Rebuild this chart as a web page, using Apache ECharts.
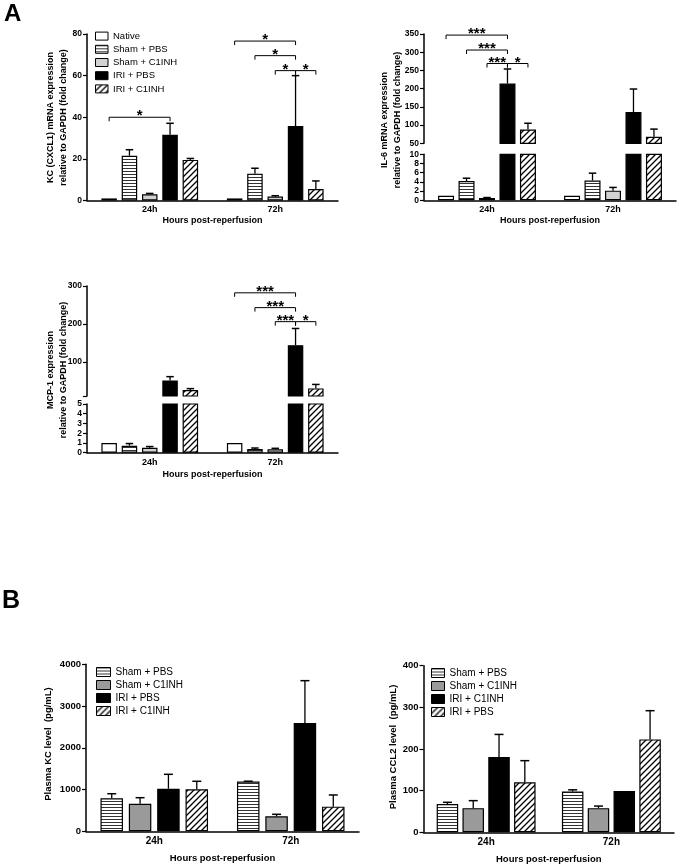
<!DOCTYPE html>
<html><head><meta charset="utf-8">
<script src="https://cdn.jsdelivr.net/npm/echarts@6/dist/echarts.min.js"></script>
<style>html,body{margin:0;padding:0;background:#fff}#c{width:677px;height:866px}</style>
</head><body><div id="c"></div>
<script>
const FONT = '"Liberation Sans", Arial, sans-serif';
const categories = ['24h', '72h'];
const xTitle = 'Hours post-reperfusion';

// ---------- Panel A groups ----------
const groupsA = ['Native', 'Sham + PBS', 'Sham + C1INH', 'IRI + PBS', 'IRI + C1INH'];

// KC (CXCL1) mRNA: means and SEM
const kcNative = [1.0, 1.0];
const kcShamPBS = [21.5, 12.9];
const kcShamC1 = [3.0, 1.9];
const kcIriPBS = [31.6, 35.8];
const kcIriC1 = [19.5, 5.5];
const kcShamPBSSem = [2.9, 2.6];
const kcShamC1Sem = [0.4, 0.4];
const kcIriPBSSem = [5.5, 24.2];
const kcIriC1Sem = [0.7, 3.9];
// brackets: [category, fromBar, toBar, level, label]
const kcBrackets = [[0, 0, 3, 40, '*'], [1, 0, 3, 76.6, '*'], [1, 1, 3, 69.6, '*'], [1, 2, 3, 62.4, '*'], [1, 3, 4, 62.4, '*']];

// IL-6 mRNA
const il6Native = [1.0, 1.0];
const il6ShamPBS = [4.2, 4.3];
const il6ShamC1 = [0.5, 2.1];
const il6IriPBS = [214, 136];
const il6IriC1 = [88, 68];
const il6ShamPBSSem = [0.6, 1.6];
const il6ShamC1Sem = [0.1, 0.7];
const il6IriPBSSem = [40, 63];
const il6IriC1Sem = [17, 21];
const il6Brackets = [[0, 0, 3, 347, '***'], [0, 1, 3, 306, '***'], [0, 2, 3, 269, '***'], [0, 3, 4, 269, '*']];

// MCP-1
const mcpNative = [1.0, 1.0];
const mcpShamPBS = [0.72, 0.38];
const mcpShamC1 = [0.51, 0.35];
const mcpIriPBS = [51, 144];
const mcpIriC1 = [26, 30];
const mcpShamPBSSem = [0.22, 0.1];
const mcpShamC1Sem = [0.12, 0.1];
const mcpIriPBSSem = [10, 44];
const mcpIriC1Sem = [3.5, 10.5];
const mcpBrackets = [[1, 0, 3, 282, '***'], [1, 1, 3, 243, '***'], [1, 2, 3, 206, '***'], [1, 3, 4, 206, '*']];

// ---------- Panel B ----------
const groupsPlasmaKC = ['Sham + PBS', 'Sham + C1INH', 'IRI + PBS', 'IRI + C1INH'];
const pkcShamPBS = [790, 1190];
const pkcShamC1 = [661, 359];
const pkcIriPBS = [1020, 2594];
const pkcIriC1 = [1006, 590];
const pkcShamPBSSem = [110, 10];
const pkcShamC1Sem = [144, 48];
const pkcIriPBSSem = [345, 1014];
const pkcIriC1Sem = [192, 280];

const groupsPlasmaCCL2 = ['Sham + PBS', 'Sham + C1INH', 'IRI + C1INH', 'IRI + PBS'];
const ccl2ShamPBS = [68, 98];
const ccl2ShamC1 = [58, 58];
const ccl2IriC1 = [181, 99];
const ccl2IriPBS = [120, 223];
const ccl2ShamPBSSem = [4, 4];
const ccl2ShamC1Sem = [18, 5];
const ccl2IriC1Sem = [54, null];
const ccl2IriPBSSem = [52, 69];

// ---------- patterns ----------
function stripeH() {
  const c = document.createElement('canvas'); c.width = 4; c.height = 3;
  const g = c.getContext('2d');
  g.fillStyle = '#fff'; g.fillRect(0, 0, 4, 3);
  g.fillStyle = '#333'; g.fillRect(0, 0, 4, 1);
  return { image: c, repeat: 'repeat' };
}
function hatch() {
  const s = 6; const c = document.createElement('canvas'); c.width = s; c.height = s;
  const g = c.getContext('2d');
  g.fillStyle = '#fff'; g.fillRect(0, 0, s, s);
  g.strokeStyle = '#000'; g.lineWidth = 1.3; g.beginPath();
  g.moveTo(0, s); g.lineTo(s, 0);
  g.moveTo(-1, 1); g.lineTo(1, -1);
  g.moveTo(s - 1, s + 1); g.lineTo(s + 1, s - 1);
  g.stroke();
  return { image: c, repeat: 'repeat' };
}
const STRIPE = stripeH(), HATCH = hatch();
const stylesA = ['#ffffff', STRIPE, '#d2d2d2', '#000000', HATCH];
const stylesPKC = [STRIPE, '#9a9a9a', '#000000', HATCH];
const stylesCCL2 = [STRIPE, '#9a9a9a', '#000000', HATCH];

const grids = [], xAxes = [], yAxes = [], series = [];

function addPanel(p) {
  const n = p.names.length;
  const step = p.barWidth * (1 + p.barGap / 100);
  const segIdx = [];
  p.segs.forEach((s, k) => {
    const idx = grids.length; segIdx.push(idx);
    const isLast = k === p.segs.length - 1;
    grids.push({ left: s.left, top: s.top, width: s.width, height: s.height });
    xAxes.push({
      gridIndex: idx, type: 'category', data: categories, show: isLast,
      axisLine: { lineStyle: { color: '#000', width: 1.5 } }, axisTick: { show: false },
      axisLabel: { color: '#000', fontWeight: 'bold', fontSize: p.xLabelSize, fontFamily: FONT, margin: 5 },
      name: isLast ? xTitle : '', nameLocation: 'middle', nameGap: p.nameGap,
      nameTextStyle: { color: '#000', fontWeight: 'bold', fontSize: p.titleSize, fontFamily: FONT }
    });
    const axisTick = { show: true, length: 4, lineStyle: { color: '#000', width: 1.2 } };
    const axisLabel = { color: '#000', fontWeight: 'bold', fontSize: p.labelSize, fontFamily: FONT, margin: 5,
      formatter: v => String(v) };
    if (s.tickValues) axisTick.customValues = s.tickValues;
    if (s.labelValues) axisLabel.customValues = s.labelValues;
    const ya = { gridIndex: idx, type: 'value', min: s.min, max: s.max, splitLine: { show: false },
      axisLine: { show: true, lineStyle: { color: '#000', width: 1.5 } }, axisTick, axisLabel };
    if (s.interval) ya.interval = s.interval;
    yAxes.push(ya);
    p.names.forEach((nm, i) => series.push({
      type: 'bar', name: nm, xAxisIndex: idx, yAxisIndex: idx, data: p.means[i],
      barWidth: p.barWidth, barGap: p.barGap + '%', silent: true, animation: false,
      itemStyle: { color: p.colors[i], borderColor: '#000', borderWidth: 1.2 }
    }));
  });
  const items = p.segs.map(() => []);
  p.means.forEach((arr, i) => arr.forEach((m, c) => {
    const e = p.sems[i] ? p.sems[i][c] : null;
    if (e == null) return;
    const up = m + e;
    let k = p.segs.length - 1;
    while (k > 0 && up > p.segs[k].max) k--;
    items[k].push([c, i, Math.max(m, p.segs[k].min), up]);
  }));
  items.forEach((it, k) => {
    if (!it.length) return;
    series.push({
      type: 'custom', xAxisIndex: segIdx[k], yAxisIndex: segIdx[k], data: it, z: 3, silent: true, animation: false,
      renderItem(params, api) {
        const cat = api.value(0), bi = api.value(1), m = api.value(2), up = api.value(3);
        const p0 = api.coord([cat, m]), p1 = api.coord([cat, up]);
        const x = p0[0] + (bi - (n - 1) / 2) * step;
        return { type: 'group', children: [
          { type: 'line', shape: { x1: x, y1: p0[1], x2: x, y2: p1[1] }, style: { stroke: '#000', lineWidth: 1.3 } },
          { type: 'line', shape: { x1: x - p.capW / 2, y1: p1[1], x2: x + p.capW / 2, y2: p1[1] }, style: { stroke: '#000', lineWidth: 1.5 } }
        ] };
      }
    });
  });
  if (p.brackets) {
    const br = p.brackets;
    series.push({
      type: 'custom', xAxisIndex: segIdx[0], yAxisIndex: segIdx[0], z: 4, silent: true, animation: false,
      data: br.map(b => [b[0], b[3]]),
      renderItem(params, api) {
        const b = br[params.dataIndex];
        const c = api.coord([b[0], b[3]]);
        const x1 = c[0] + (b[1] - (n - 1) / 2) * step, x2 = c[0] + (b[2] - (n - 1) / 2) * step, y = c[1];
        return { type: 'group', children: [
          { type: 'polyline', shape: { points: [[x1, y + 4], [x1, y], [x2, y], [x2, y + 4]] }, style: { stroke: '#000', lineWidth: 1, fill: 'none' } },
          { type: 'text', style: { text: b[4], x: (x1 + x2) / 2, y: y + 6.5, align: 'center', verticalAlign: 'bottom', font: 'bold 15px ' + FONT, fill: '#000' } }
        ] };
      }
    });
  }
}

addPanel({
  names: groupsA, colors: stylesA, barWidth: 15.5, barGap: 31, capW: 7.5, labelSize: 8.5, xLabelSize: 9, titleSize: 9, nameGap: 16,
  means: [kcNative, kcShamPBS, kcShamC1, kcIriPBS, kcIriC1],
  sems: [null, kcShamPBSSem, kcShamC1Sem, kcIriPBSSem, kcIriC1Sem],
  brackets: kcBrackets,
  segs: [{ left: 87, top: 34, width: 251, height: 166.5, min: 0, max: 80, interval: 20 }]
});
addPanel({
  names: groupsA, colors: stylesA, barWidth: 16, barGap: 28, capW: 7.5, labelSize: 8.5, xLabelSize: 9, titleSize: 9, nameGap: 16,
  means: [il6Native, il6ShamPBS, il6ShamC1, il6IriPBS, il6IriC1],
  sems: [null, il6ShamPBSSem, il6ShamC1Sem, il6IriPBSSem, il6IriC1Sem],
  brackets: il6Brackets,
  segs: [
    { left: 424, top: 34, width: 252, height: 109.3, min: 50, max: 350, interval: 50 },
    { left: 424, top: 154.3, width: 252, height: 46, min: 0, max: 10, interval: 2 }
  ]
});
addPanel({
  names: groupsA, colors: stylesA, barWidth: 15.5, barGap: 31, capW: 7.5, labelSize: 8.5, xLabelSize: 9, titleSize: 9, nameGap: 17,
  means: [mcpNative, mcpShamPBS, mcpShamC1, mcpIriPBS, mcpIriC1],
  sems: [null, mcpShamPBSSem, mcpShamC1Sem, mcpIriPBSSem, mcpIriC1Sem],
  brackets: mcpBrackets,
  segs: [
    { left: 87, top: 286, width: 251, height: 110, min: 10, max: 300, tickValues: [10, 100, 200, 300], labelValues: [100, 200, 300] },
    { left: 87, top: 404, width: 251, height: 48.7, min: 0, max: 5, interval: 1 }
  ]
});
addPanel({
  names: groupsPlasmaKC, colors: stylesPKC, barWidth: 22.5, barGap: 26, capW: 9, labelSize: 9.5, xLabelSize: 10, titleSize: 9.5, nameGap: 22,
  means: [pkcShamPBS, pkcShamC1, pkcIriPBS, pkcIriC1],
  sems: [pkcShamPBSSem, pkcShamC1Sem, pkcIriPBSSem, pkcIriC1Sem],
  segs: [{ left: 86, top: 664.3, width: 273, height: 167, min: 0, max: 4000, interval: 1000 }]
});
addPanel({
  names: groupsPlasmaCCL2, colors: stylesCCL2, barWidth: 21.5, barGap: 20, capW: 9, labelSize: 9.5, xLabelSize: 10, titleSize: 9.5, nameGap: 22,
  means: [ccl2ShamPBS, ccl2ShamC1, ccl2IriC1, ccl2IriPBS],
  sems: [ccl2ShamPBSSem, ccl2ShamC1Sem, ccl2IriC1Sem, ccl2IriPBSSem],
  segs: [{ left: 423.5, top: 665.7, width: 250.5, height: 166.6, min: 0, max: 400, interval: 100 }]
});

function legendFor(names, colors, left, top, itemWidth, itemHeight, fontSize, lineHeight) {
  return {
    orient: 'vertical', left, top, padding: 0, icon: 'rect', itemWidth, itemHeight, itemGap: 0, selectedMode: false,
    textStyle: { color: '#000', fontSize, lineHeight, fontFamily: FONT },
    itemStyle: { borderColor: '#000', borderWidth: 1 },
    data: names.map((nm, i) => ({ name: nm, itemStyle: { color: colors[i], borderColor: '#000', borderWidth: 1 } }))
  };
}

function yTitle(text, x, y, size) {
  return { type: 'text', x, y, rotation: Math.PI / 2, silent: true,
    style: { text, align: 'center', verticalAlign: 'middle', font: 'bold ' + size + 'px ' + FONT, lineHeight: 13, fill: '#000' } };
}

const chart = echarts.init(document.getElementById('c'), null, { renderer: 'canvas' });
chart.setOption({
  animation: false,
  backgroundColor: '#fff',
  grid: grids, xAxis: xAxes, yAxis: yAxes, series,
  legend: [
    legendFor(groupsA, stylesA, 95, 29.5, 12.5, 8, 9.5, 13.2),
    legendFor(groupsPlasmaKC, stylesPKC, 96, 665.5, 14, 9, 10, 13),
    legendFor(groupsPlasmaCCL2, stylesCCL2, 431, 666.5, 13, 9, 10, 13)
  ],
  graphic: [
    { type: 'text', x: 4, y: 14, silent: true, style: { text: 'A', verticalAlign: 'middle', font: 'bold 24px ' + FONT, fill: '#000' } },
    { type: 'text', x: 2, y: 601, silent: true, style: { text: 'B', verticalAlign: 'middle', font: 'bold 25px ' + FONT, fill: '#000' } },
    yTitle('KC (CXCL1) mRNA expression\nrelative to GAPDH (fold change)', 57.5, 117.5, 9),
    yTitle('IL-6 mRNA expression\nrelative to GAPDH (fold change)', 391, 120, 9),
    yTitle('MCP-1 expression\nrelative to GAPDH (fold change)', 57.5, 370, 9),
    yTitle('Plasma KC level  (pg/mL)', 48.5, 744, 9.5),
    yTitle('Plasma CCL2 level  (pg/mL)', 393, 747, 9.5)
  ]
});
</script></body></html>
